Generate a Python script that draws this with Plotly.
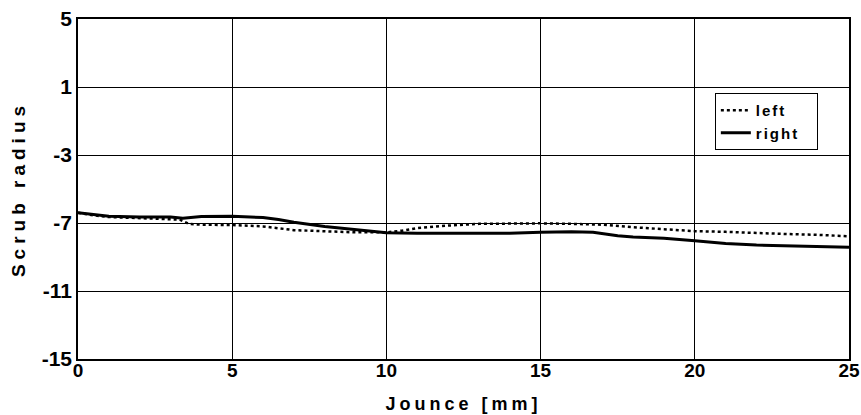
import plotly.graph_objects as go

jounce_right = [0, 0.5, 1, 2, 3, 3.4, 4, 5, 5.5, 6, 6.5, 7, 8, 9, 10, 11, 12, 13, 14, 15, 16, 16.7, 17.5, 18, 19, 20, 21, 22, 23, 24, 25]
scrub_right = [-6.4, -6.5, -6.6, -6.65, -6.65, -6.72, -6.62, -6.6, -6.62, -6.68, -6.8, -6.95, -7.2, -7.4, -7.57, -7.6, -7.6, -7.6, -7.6, -7.55, -7.52, -7.55, -7.75, -7.82, -7.9, -8.05, -8.2, -8.3, -8.35, -8.38, -8.42]

jounce_left = [0, 0.5, 1, 2, 3, 3.3, 3.6, 4, 5, 6, 7, 8, 9, 10, 10.5, 11, 12, 13, 14, 15, 16, 17, 18, 19, 20, 21, 22, 23, 24, 25]
scrub_left = [-6.4, -6.55, -6.65, -6.72, -6.75, -6.8, -7.05, -7.1, -7.12, -7.2, -7.42, -7.5, -7.55, -7.55, -7.45, -7.3, -7.15, -7.05, -7.02, -7.02, -7.05, -7.1, -7.25, -7.35, -7.48, -7.52, -7.6, -7.65, -7.7, -7.78]

x_ticks = [0, 5, 10, 15, 20, 25]
x_labels = ["0", "5", "10", "15", "20", "25"]
y_ticks = [5, 1, -3, -7, -11, -15]
y_labels = ["5", "1", "-3", "-7", "-11", "-15"]

FONT = "Liberation Sans, Arial, sans-serif"

def spaced(s, px):
    return '<span style="letter-spacing:%dpx">%s</span>' % (px, s)

PAD = "\u00a0\u00a0\u00a0"

fig = go.Figure()
fig.add_trace(go.Scatter(x=jounce_left, y=scrub_left, mode="lines", name=spaced("left", 2) + PAD,
                         line=dict(color="black", width=2.5, dash="dot")))
fig.add_trace(go.Scatter(x=jounce_right, y=scrub_right, mode="lines", name=spaced("right", 2) + PAD,
                         line=dict(color="black", width=3)))

axis_common = dict(showline=True, linecolor="black", linewidth=1.5, mirror=True,
                   showgrid=True, gridcolor="black", gridwidth=1, zeroline=False,
                   automargin=False, ticks="", ticklabeloverflow="allow")

fig.update_xaxes(range=[0, 25], tickvals=x_ticks, ticktext=x_labels, ticklabelstandoff=-7,
                 tickfont=dict(family=FONT, size=19, color="black", weight="bold"),
                 title=dict(text=spaced("Jounce [mm]", 4),
                            font=dict(family=FONT, size=18, color="black", weight="bold"), standoff=18),
                 **axis_common)
fig.update_yaxes(range=[-15, 5], tickvals=y_ticks, ticktext=y_labels,
                 tickfont=dict(family=FONT, size=21, color="black", weight="bold"),
                 title=dict(text=spaced("Scrub radius", 5),
                            font=dict(family=FONT, size=19, color="black", weight="bold"), standoff=11),
                 **axis_common)

fig.update_layout(
    width=861, height=415,
    margin=dict(l=78, r=12, t=19, b=56),
    paper_bgcolor="white", plot_bgcolor="white",
    showlegend=True,
    legend=dict(x=0.826, y=0.782, xanchor="left", yanchor="top",
                bgcolor="white", bordercolor="black", borderwidth=1,
                itemwidth=30, tracegroupgap=0,
                font=dict(family=FONT, size=15, color="black", weight="bold")),
)

fig.write_html("out.html", config={"displayModeBar": False},
               post_script="document.body.style.margin='0';document.body.style.overflow='hidden';")
